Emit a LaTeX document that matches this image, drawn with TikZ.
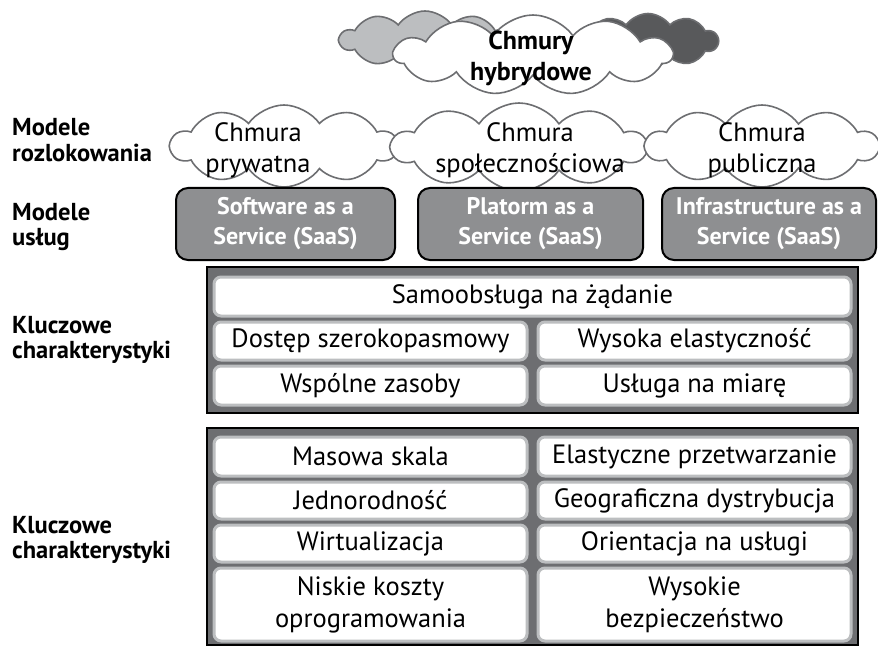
\documentclass[tikz,border=0pt]{standalone}
\usepackage{fontspec}
\setmainfont{PT Sans}
\newfontfamily\condbold{PT Sans Bold}
\usetikzlibrary{shapes.symbols}
\definecolor{panelgray}{HTML}{6D6E71}
\definecolor{svcgray}{HTML}{8E8F91}
\definecolor{rimgray}{HTML}{BCBEC0}
\definecolor{lightcloud}{HTML}{BCBEC0}
\definecolor{darkcloud}{HTML}{58595B}
\definecolor{cloudline}{HTML}{6D6E71}
\begin{document}
\begin{tikzpicture}[x=1pt,y=-1pt,
  cloudshape/.style={cloud, cloud puffs=10, cloud puff arc=110, draw=cloudline, line width=1.6pt, fill=white, inner sep=0pt, cloud ignores aspect},
  cloudtext/.style={align=center, inner sep=0pt, font=\fontsize{26.5}{31}\selectfont},
  sidelabel/.style={anchor=west, align=left, inner sep=0pt, font=\condbold\fontsize{24.5}{25.5}\selectfont},
  svcbox/.style={rectangle, rounded corners=12pt, draw=black, line width=2pt, fill=svcgray, text=white, align=center, inner sep=0pt, font=\condbold\fontsize{24}{30}\selectfont},
  panel/.style={rectangle, draw=black, line width=2.5pt, fill=panelgray, inner sep=0pt},
  innerbox/.style={rectangle, rounded corners=7pt, draw=rimgray, line width=3pt, fill=white, align=center, inner sep=0pt, font=\fontsize{26.5}{32}\selectfont}
]
\useasboundingbox (0,0) rectangle (878,647);

% hybrid clouds
\node[cloudshape, fill=lightcloud, minimum width=170pt, minimum height=58pt] (hl) at (425,40) {};
\node[cloudshape, fill=darkcloud, minimum width=140pt, minimum height=55pt] (hr) at (648,41) {};
\node[cloudshape, cloud puffs=11, minimum width=278pt, minimum height=80pt] (hc) at (533,55) {};
\node[cloudtext, font=\condbold\fontsize{26}{31}\selectfont] (hct) at (531,58) {Chmury\\hybrydowe};

% side labels
\node[sidelabel] (l1) at (12,140) {Modele\\rozlokowania};
\node[sidelabel] (l2) at (12,227) {Modele\\usług};
\node[sidelabel] (l3) at (12,340) {Kluczowe\\charakterystyki};
\node[sidelabel] (l4) at (12,540) {Kluczowe\\charakterystyki};

% deployment clouds
\node[cloudshape, minimum width=226pt, minimum height=82pt] (c1) at (284,146) {};
\node[cloudshape, minimum width=254pt, minimum height=88pt] (c2) at (519,147) {};
\node[cloudshape, minimum width=232pt, minimum height=82pt] (c3) at (762,146) {};
\node[cloudtext] (c1t) at (258,150) {Chmura\\prywatna};
\node[cloudtext] (c2t) at (530,150) {Chmura\\społecznościowa};
\node[cloudtext] (c3t) at (762,150) {Chmura\\publiczna};

% service models
\node[svcbox, minimum width=219pt, minimum height=72pt] (s1) at (285.5,224) {Software as a\\Service (SaaS)};
\node[svcbox, minimum width=225pt, minimum height=72pt] (s2) at (530.5,224) {Platorm as a\\Service (SaaS)};
\node[svcbox, minimum width=214pt, minimum height=72pt] (s3) at (769,224) {Infrastructure as a\\Service (SaaS)};

% panel 1
\node[panel, minimum width=651pt, minimum height=146pt] (p1) at (532.5,340) {};
\node[innerbox, minimum width=637pt, minimum height=39pt] (a1) at (532.5,296.5) {Samoobsługa na żądanie};
\node[innerbox, minimum width=313pt, minimum height=38pt] (a2) at (370.5,341) {Dostęp szerokopasmowy};
\node[innerbox, minimum width=313pt, minimum height=38pt] (a3) at (694.5,341) {Wysoka elastyczność};
\node[innerbox, minimum width=313pt, minimum height=39pt] (a4) at (370.5,385.5) {Wspólne zasoby};
\node[innerbox, minimum width=313pt, minimum height=39pt] (a5) at (694.5,385.5) {Usługa na miarę};

% panel 2
\node[panel, minimum width=651pt, minimum height=217pt] (p2) at (532.5,536.5) {};
\node[innerbox, minimum width=313pt, minimum height=39pt] (b1) at (370.5,456.5) {Masowa skala};
\node[innerbox, minimum width=313pt, minimum height=39pt] (b2) at (694.5,456.5) {Elastyczne przetwarzanie};
\node[innerbox, minimum width=313pt, minimum height=37pt] (b3) at (370.5,500.5) {Jednorodność};
\node[innerbox, minimum width=313pt, minimum height=37pt] (b4) at (694.5,500.5) {Geograficzna dystrybucja};
\node[innerbox, minimum width=313pt, minimum height=37pt] (b5) at (370.5,543.5) {Wirtualizacja};
\node[innerbox, minimum width=313pt, minimum height=37pt] (b6) at (694.5,543.5) {Orientacja na usługi};
\node[innerbox, minimum width=313pt, minimum height=73pt] (b7) at (370.5,604.5) {Niskie koszty\\oprogramowania};
\node[innerbox, minimum width=313pt, minimum height=73pt] (b8) at (694.5,604.5) {Wysokie\\bezpieczeństwo};
\end{tikzpicture}
\end{document}
